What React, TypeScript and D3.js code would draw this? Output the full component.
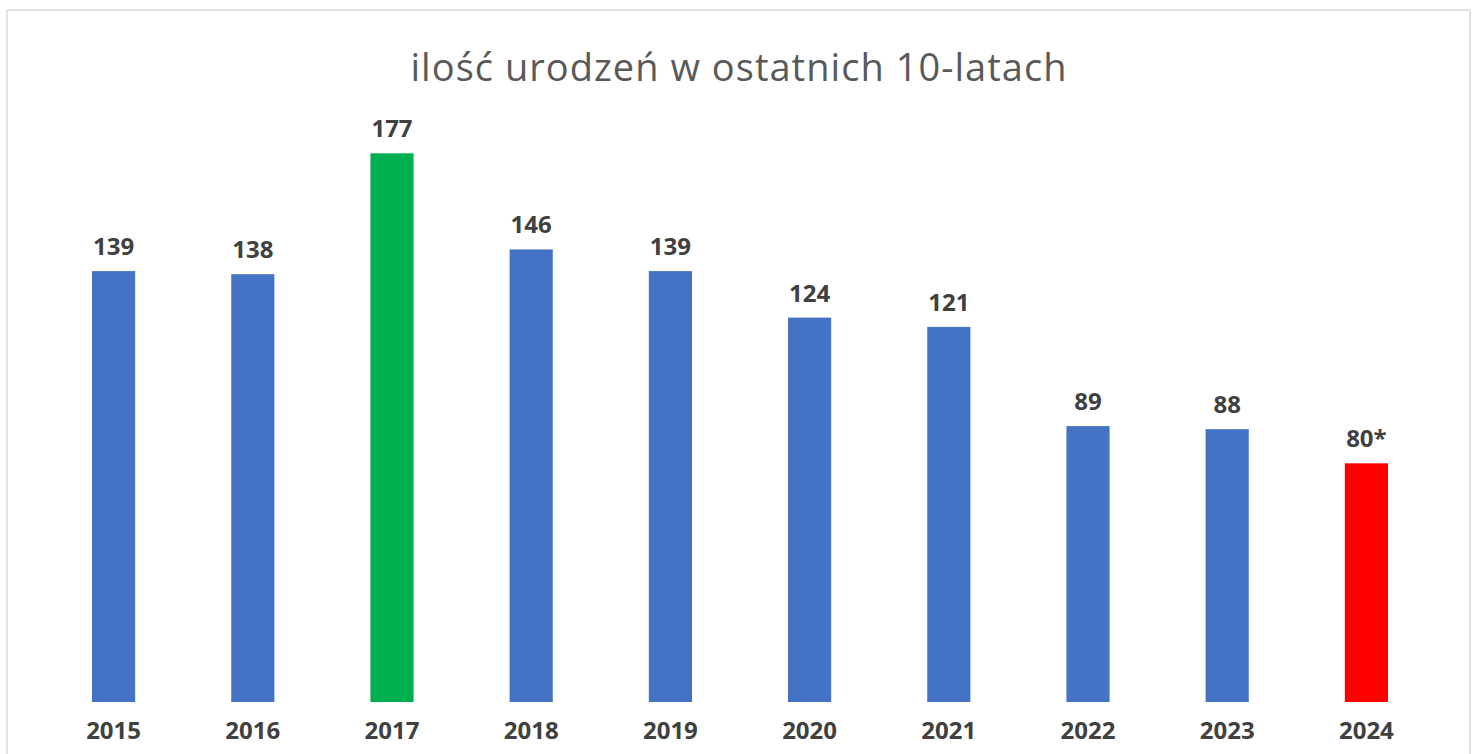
import React from "react";
import * as d3 from "d3";

const years = ["2015", "2016", "2017", "2018", "2019", "2020", "2021", "2022", "2023", "2024"];
const births = [139, 138, 177, 146, 139, 124, 121, 89, 88, 77];
const labels = ["139", "138", "177", "146", "139", "124", "121", "89", "88", "80*"];
const colors = ["#4472C4", "#4472C4", "#00B050", "#4472C4", "#4472C4", "#4472C4", "#4472C4", "#4472C4", "#4472C4", "#FF0000"];
const title = "ilość urodzeń w ostatnich 10-latach";

const W = 1477;
const H = 754;
const FONT = "'Open Sans', Lato, sans-serif";

export default function App() {
  const x = d3.scaleBand<string>().domain(years).range([44, 1436]).paddingInner(0.69).paddingOuter(0.345);
  const y = d3.scaleLinear().domain([0, 200]).range([702, 82]);

  return (
    <svg width={W} height={H} style={{ position: "fixed", left: 0, top: 0, background: "#fff" }}>
      <rect x={0} y={0} width={W} height={H} fill="#fff" />
      <rect x={7} y={10} width={1463} height={800} fill="#fff" stroke="#d9d9d9" strokeWidth={1.5} />
      <text x={738.5} y={81} textAnchor="middle" fontFamily={FONT} fontSize={38} fill="#595959" textLength={656} lengthAdjust="spacing">
        {title}
      </text>
      {years.map((yr, i) => {
        const bx = x(yr)!;
        const bw = x.bandwidth();
        const top = y(births[i]);
        return (
          <g key={yr}>
            <rect x={bx} y={top} width={bw} height={y(0) - top} fill={colors[i]} />
            <text x={bx + bw / 2} y={top - 16} textAnchor="middle" fontFamily={FONT} fontWeight={700} fontSize={24} fill="#404040">
              {labels[i]}
            </text>
            <text x={bx + bw / 2} y={739} textAnchor="middle" fontFamily={FONT} fontWeight={700} fontSize={24} fill="#404040">
              {yr}
            </text>
          </g>
        );
      })}
    </svg>
  );
}
